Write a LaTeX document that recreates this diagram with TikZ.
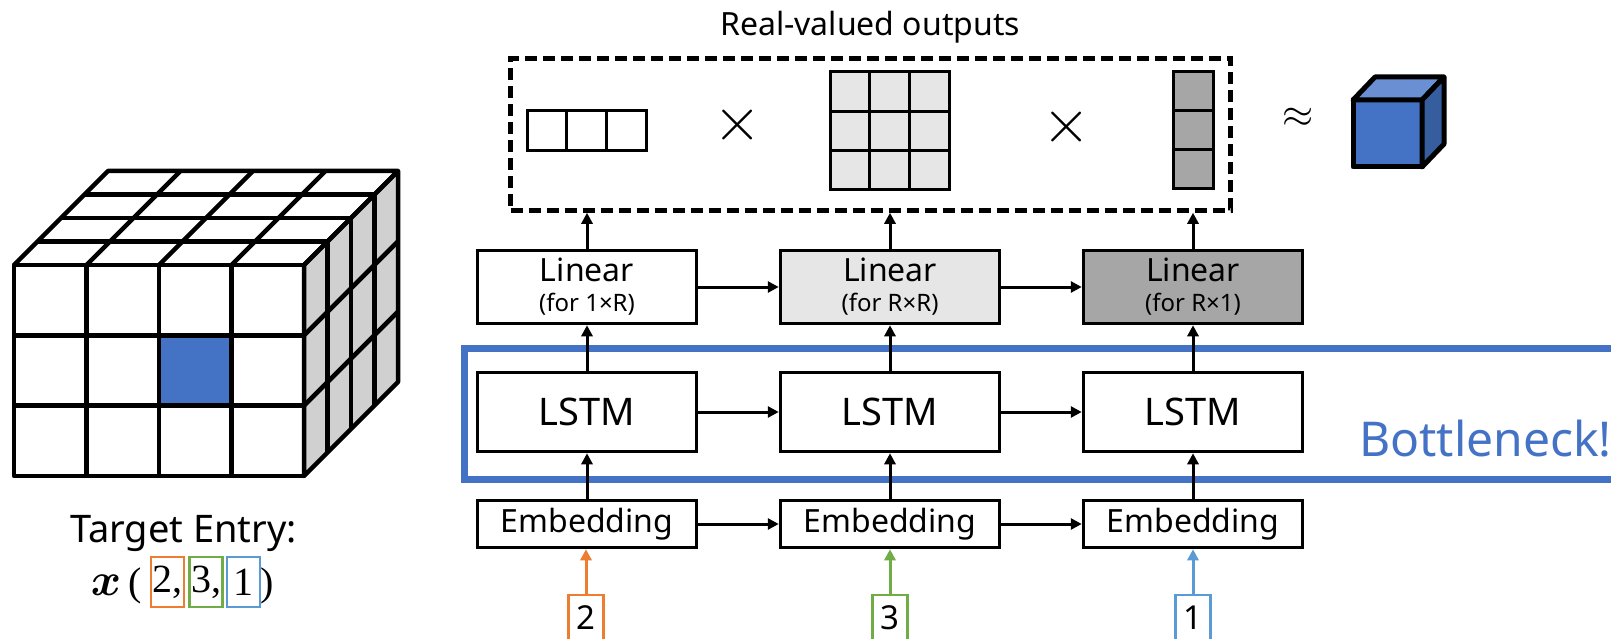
\documentclass[tikz,border=0pt]{standalone}
\usepackage{fix-cm}
\usepackage{amsmath}
\usepackage{fontspec}
\newfontfamily\nsans{Noto Sans}
\newfontfamily\cserif{Liberation Serif}
\usetikzlibrary{arrows.meta}
\definecolor{cblue}{HTML}{4472C4}
\definecolor{corange}{HTML}{ED7D31}
\definecolor{cgreen}{HTML}{70AD47}
\definecolor{clblue}{HTML}{5B9BD5}
\definecolor{lgray}{HTML}{E6E6E6}
\definecolor{dgray}{HTML}{A6A6A6}
\definecolor{sgray}{HTML}{D0D0D0}
\definecolor{ctop}{HTML}{6A8FD2}
\definecolor{cside}{HTML}{365E9E}
\newcommand\fs[1]{\fontsize{#1}{#1}\selectfont}
\begin{document}
\begin{tikzpicture}[x=1pt,y=-1pt,
  every node/.style={font=\nsans},
  blk/.style={draw, line width=3.5pt, minimum width=219pt, inner sep=0pt, fill=white},
  linblk/.style={blk, minimum height=73pt, align=center, font=\nsans\fontsize{24}{30}\selectfont},
  lstmblk/.style={blk, minimum height=79pt, font=\nsans\fs{38}},
  embblk/.style={blk, minimum height=47pt, font=\nsans\fs{32}},
  arr/.style={line width=3pt, -{Triangle[length=11pt,width=11pt]}},
  numbox/.style={draw, line width=2.8pt, minimum width=35pt, minimum height=46pt, inner sep=0pt, fill=white, font=\nsans\fs{33}},
  idxbox/.style={draw, line width=2.5pt, minimum width=33pt, minimum height=50pt, inner sep=0pt, font=\cserif\fs{40}},
  cubeline/.style={line width=4.5pt, line join=round},
  mat/.style={line width=3pt}]
\useasboundingbox (0,0) rectangle (1611,639);

% ---------- left tensor cube ----------
\fill[white] (14,265) rectangle (304,476);
\fill[cblue] (159,335.33) rectangle (231.5,405.67);
\filldraw[cubeline, fill=sgray] (304,265) -- (398,171) -- (398,382) -- (304,476) -- cycle;
\draw[cubeline] (14,265) rectangle (304,476);
\draw[cubeline] (14,265) -- (108,171) -- (398,171) -- (304,265);
\foreach \i in {1,2,3} {
  \draw[cubeline] ({14+72.5*\i},265) -- ({14+72.5*\i},476);
  \draw[cubeline] ({14+72.5*\i},265) -- ({108+72.5*\i},171);
  \draw[cubeline] ({14+23.5*\i},{265-23.5*\i}) -- ({304+23.5*\i},{265-23.5*\i});
  \draw[cubeline] ({304+23.5*\i},{265-23.5*\i}) -- ({304+23.5*\i},{476-23.5*\i});
}
\foreach \j in {1,2} {
  \draw[cubeline] (14,{265+70.333*\j}) -- (304,{265+70.333*\j});
  \draw[cubeline] (304,{265+70.333*\j}) -- (398,{171+70.333*\j});
}

% ---------- target entry ----------
\node[anchor=base, font=\nsans\fs{38}] (tgt) at (183.5,542) {Target Entry:};
\node[anchor=base, inner sep=0pt] (xv) at (106,595) {\fs{46}$\boldsymbol{x}$};
\node[anchor=base, inner sep=0pt, font=\cserif\fs{40}] (lp) at (135,595) {(};
\node[idxbox, draw=corange] (t2) at (167.5,582) {2,};
\node[idxbox, draw=cgreen] (t3) at (206,582) {3,};
\node[idxbox, draw=clblue] (t1) at (243.5,582) {1};
\node[anchor=base, inner sep=0pt, font=\cserif\fs{40}] (rp) at (267,595) {)};

% ---------- bottleneck frame ----------
\draw[cblue, line width=7pt] (1630,348) -- (464.5,348) -- (464.5,479.5) -- (1630,479.5);
\node[anchor=base west, text=cblue, font=\nsans\fs{48}, inner sep=0pt] (bn) at (1359,456) {Bottleneck!};

% ---------- blocks ----------
\node[linblk] (lin1) at (587,287) {{\fs{32}Linear}\\(for 1×R)};
\node[linblk, fill=lgray] (lin2) at (890,287) {{\fs{32}Linear}\\(for R×R)};
\node[linblk, fill=dgray] (lin3) at (1193,287) {{\fs{32}Linear}\\(for R×1)};
\node[lstmblk] (lstm1) at (587,412) {LSTM};
\node[lstmblk] (lstm2) at (890,412) {LSTM};
\node[lstmblk] (lstm3) at (1193,412) {LSTM};
\node[embblk] (emb1) at (587,524) {Embedding};
\node[embblk] (emb2) at (890,524) {Embedding};
\node[embblk] (emb3) at (1193,524) {Embedding};
\node[numbox, draw=corange] (n1) at (586,618) {2};
\node[numbox, draw=cgreen] (n2) at (890,618) {3};
\node[numbox, draw=clblue] (n3) at (1193,618) {1};

% ---------- outputs ----------
\node[anchor=base, font=\nsans\fs{32}] (title) at (870,36) {Real-valued outputs};
\node[draw, dash pattern=on 12pt off 6pt, line width=4.5pt, minimum width=720pt, minimum height=152pt, inner sep=0pt] (out) at (870.5,134.5) {};
\draw[mat] (527,111) rectangle (646,151);
\draw[mat] (566.7,111) -- (566.7,151) (606.3,111) -- (606.3,151);
\draw[mat, fill=lgray] (830,72) rectangle (949,190);
\draw[mat] (869.7,72) -- (869.7,190) (909.3,72) -- (909.3,190)
           (830,111.3) -- (949,111.3) (830,150.7) -- (949,150.7);
\draw[mat, fill=dgray] (1173,72) rectangle (1213,189);
\draw[mat] (1173,111) -- (1213,111) (1173,150) -- (1213,150);
\node (x1) at (738,125) {\fs{62}$\times$};
\node (x2) at (1067,127) {\fs{62}$\times$};
\node (apx) at (1298,118) {\fs{40}$\approx$};

% ---------- blue result cube ----------
\draw[line width=5pt, line join=round, fill=cblue] (1353,100) rectangle (1422,167);
\draw[line width=5pt, line join=round, fill=ctop] (1353,100) -- (1375,77) -- (1444,77) -- (1422,100) -- cycle;
\draw[line width=5pt, line join=round, fill=cside] (1422,100) -- (1444,77) -- (1444,144) -- (1422,167) -- cycle;

% ---------- connectors ----------
\foreach \k in {1,2,3} {
  \draw[arr] (lstm\k) -- (lin\k);
  \draw[arr] (emb\k) -- (lstm\k);
  \draw[arr] (lin\k.north) -- (lin\k.north |- out.south);
}
\draw[arr] (lin1) -- (lin2);
\draw[arr] (lin2) -- (lin3);
\draw[arr] (lstm1) -- (lstm2);
\draw[arr] (lstm2) -- (lstm3);
\draw[arr] (emb1) -- (emb2);
\draw[arr] (emb2) -- (emb3);
\draw[arr, corange] (n1) -- (n1 |- emb1.south);
\draw[arr, cgreen] (n2) -- (emb2);
\draw[arr, clblue] (n3) -- (emb3);
\end{tikzpicture}
\end{document}
